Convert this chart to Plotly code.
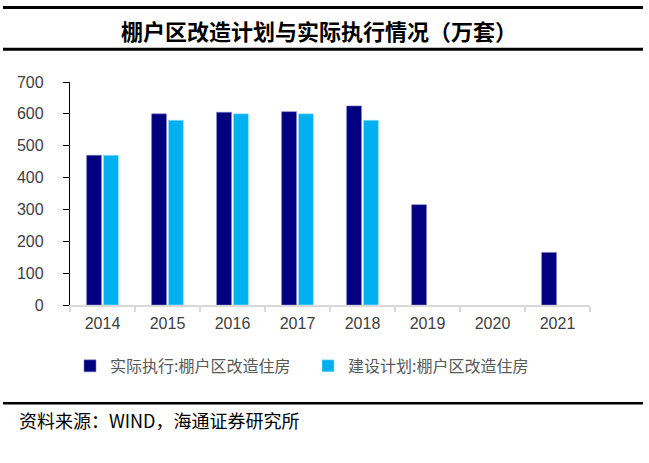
import plotly.graph_objects as go

years = ["2014", "2015", "2016", "2017", "2018", "2019", "2020", "2021"]
actual = [470, 600, 605, 607, 625, 315, None, 165]
plan = [470, 580, 600, 600, 580, None, None, None]
y_ticks = [0, 100, 200, 300, 400, 500, 600, 700]

W, H = 649, 463
L, R, T, B = 70, 590, 81.7, 305

def px(x):
    return (x - L) / (R - L)

def py(y):
    return (B - y) / (B - T)

fig = go.Figure()
fig.add_trace(go.Bar(x=years, y=actual, name="实际执行:棚户区改造住房",
                     marker=dict(color="#000080", line=dict(color="#8080c0", width=0.6))))
fig.add_trace(go.Bar(x=years, y=plan, name="建设计划:棚户区改造住房",
                     marker=dict(color="#00B0F0", line=dict(color="#a0e0ff", width=0.6))))

fig.update_layout(
    width=W, height=H,
    margin=dict(l=L, r=W - R, t=T, b=H - B, pad=0),
    paper_bgcolor="white", plot_bgcolor="white",
    barmode="group", bargap=0.48, bargroupgap=0.12,
    font=dict(family="Liberation Sans, Arial, sans-serif", size=14, color="#595959"),
    showlegend=True,
    legend=dict(orientation="h", x=px(70), y=py(366), xanchor="left", yanchor="middle",
                font=dict(family="Noto Sans CJK SC", size=16, color="#595959"),
                itemwidth=30, entrywidth=193, traceorder="normal", bgcolor="rgba(0,0,0,0)"),
)
fig.update_yaxes(range=[0, 700], tickvals=y_ticks, showgrid=False, zeroline=False,
                 showline=True, linecolor="#000000", linewidth=1.3,
                 ticks="outside", ticklen=6, tickcolor="#000000",
                 tickfont=dict(size=16, color="#404040"), ticklabelstandoff=16)
fig.update_xaxes(showgrid=False, showline=True, linecolor="#d9d9d9", linewidth=2,
                 ticks="outside", ticklen=5, tickcolor="#d9d9d9", tickwidth=2,
                 tickson="boundaries", tickfont=dict(size=16, color="#404040"),
                 ticklabelstandoff=3)

# header / footer rules
for yy, lw in [(7, 3), (49, 3), (403.5, 2.5)]:
    fig.add_shape(type="line", xref="paper", yref="paper",
                  x0=px(3), x1=px(643), y0=py(yy), y1=py(yy),
                  line=dict(color="black", width=lw))

fig.add_annotation(text="棚户区改造计划与实际执行情况（万套）", xref="paper", yref="paper",
                   x=px(318.5), y=py(30), xanchor="center", yanchor="middle", showarrow=False,
                   font=dict(family="Noto Sans CJK SC", size=22, color="black", weight=600))
fig.add_annotation(text="资料来源：WIND，海通证券研究所", xref="paper", yref="paper",
                   x=px(17), y=py(420), xanchor="left", yanchor="middle", showarrow=False,
                   font=dict(family="Noto Sans CJK SC", size=18, color="black"))

fig.write_html("out.html", config={"displayModeBar": False},
               post_script="document.body.style.margin='0';document.body.style.padding='0';")
